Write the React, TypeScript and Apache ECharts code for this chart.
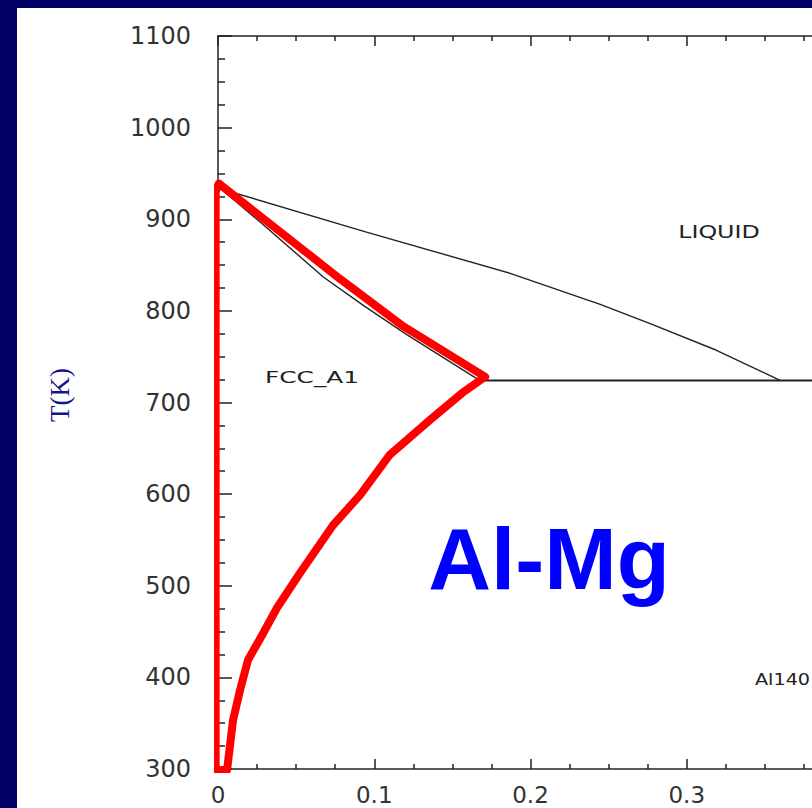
import React, { useEffect, useRef } from "react";
import * as echarts from "echarts";

// Mole fraction Mg (x) vs temperature T(K)
const liquidusX = [0.002, 0.095, 0.187, 0.2446, 0.2766, 0.319, 0.36];
const liquidusT = [933, 886, 841, 807, 786, 757, 724];

const solidusX = [0.002, 0.029, 0.0674, 0.093, 0.1208, 0.1656];
const solidusT = [933, 894, 837, 806, 774, 726];

const eutecticX = [0.1656, 0.4];
const eutecticT = [724, 724];

const highlightX = [0.0058, -0.0015, -0.0015, 0.0005, 0.078, 0.1187, 0.171, 0.156, 0.1357, 0.11, 0.0909, 0.0736, 0.0525, 0.0378, 0.0282, 0.0192, 0.0141, 0.0096, 0.0058];
const highlightT = [299, 299, 930, 939, 835, 783, 728, 710, 681, 643, 599, 566, 514, 476, 446, 419, 386, 353, 299];

const xTicks = { min: 0, max: 0.4, interval: 0.1 };
const yTicks = { min: 300, max: 1100, interval: 100 };

const zip = (xs: number[], ys: number[]) => xs.map((x, i) => [x, ys[i]]);

export default function App() {
  const ref = useRef<HTMLDivElement>(null);
  useEffect(() => {
    if (!ref.current) return;
    const chart = echarts.init(ref.current, undefined, { renderer: "svg" });
    const axisColor = "#222";
    const tick = { inside: true, length: 10, lineStyle: { color: axisColor, width: 1.5 } };
    const minor = { show: true, splitNumber: 4, length: 5, lineStyle: { color: axisColor, width: 1.5 } };
    const thin = { color: "#222", width: 1.4 };
    chart.setOption({
      animation: false,
      backgroundColor: "#ffffff",
      grid: { left: 201, top: 28, width: 625, height: 733, outerBoundsMode: "none" },
      xAxis: [
        {
          type: "value",
          position: "bottom",
          ...xTicks,
          axisLine: { show: true, onZero: false, lineStyle: { color: axisColor, width: 1.5 } },
          axisTick: tick,
          minorTick: minor,
          splitLine: { show: false },
          axisLabel: {
            color: "#333",
            fontFamily: "DejaVu Sans",
            fontSize: 23,
            margin: 14,
            showMaxLabel: false,
            formatter: (v: number) => String(v),
          },
        },
        {
          type: "value",
          position: "top",
          ...xTicks,
          axisLine: { show: true, onZero: false, lineStyle: { color: axisColor, width: 1.5 } },
          axisTick: tick,
          minorTick: minor,
          splitLine: { show: false },
          axisLabel: { show: false },
        },
      ],
      yAxis: {
        type: "value",
        ...yTicks,
        axisLine: { show: true, onZero: false, lineStyle: { color: axisColor, width: 1.5 } },
        axisTick: { ...tick, length: 14 },
        minorTick: { ...minor, length: 7 },
        splitLine: { show: false },
        axisLabel: {
          color: "#333",
          fontFamily: "DejaVu Sans",
          fontSize: 24,
          margin: 27,
          formatter: (v: number) => String(v),
        },
      },
      series: [
        { type: "line", data: zip(liquidusX, liquidusT), symbol: "none", lineStyle: thin, z: 3 },
        { type: "line", data: zip(solidusX, solidusT), symbol: "none", lineStyle: thin, z: 3 },
        { type: "line", data: zip(eutecticX, eutecticT), symbol: "none", lineStyle: { color: "#222", width: 1.8 }, z: 3 },
        {
          type: "line",
          data: zip(highlightX, highlightT),
          symbol: "none",
          lineStyle: { color: "#ff0000", width: 8, join: "round", cap: "round" },
          z: 5,
        },
      ],
      graphic: [
        {
          type: "text",
          x: 702,
          y: 224,
          scaleX: 1.4,
          style: { text: "LIQUID", fill: "#222", font: "17px 'DejaVu Sans'", textAlign: "center", textVerticalAlign: "middle" },
        },
        {
          type: "text",
          x: 295,
          y: 370,
          scaleX: 1.55,
          style: { text: "FCC_A1", fill: "#222", font: "16px 'DejaVu Sans'", textAlign: "center", textVerticalAlign: "middle" },
        },
        {
          type: "text",
          x: 738,
          y: 672,
          scaleX: 1.2,
          style: { text: "Al140", fill: "#222", font: "16px 'DejaVu Sans'", textAlign: "left", textVerticalAlign: "middle" },
        },
        {
          type: "text",
          x: 532,
          y: 550,
          style: { text: "Al-Mg", fill: "#0000ff", font: "bold 87px 'Liberation Sans'", textAlign: "center", textVerticalAlign: "middle" },
        },
        {
          type: "text",
          x: 43,
          y: 387,
          rotation: Math.PI / 2,
          style: { text: "T(K)", fill: "#14148c", font: "27px 'Liberation Serif'", textAlign: "center", textVerticalAlign: "middle" },
        },
      ],
    });
    return () => chart.dispose();
  }, []);
  return (
    <div style={{ position: "fixed", left: 0, top: 0, width: 812, height: 808, background: "#000066", overflow: "hidden" }}>
      <div ref={ref} style={{ position: "absolute", left: 17, top: 8, width: 795, height: 800 }} />
    </div>
  );
}
